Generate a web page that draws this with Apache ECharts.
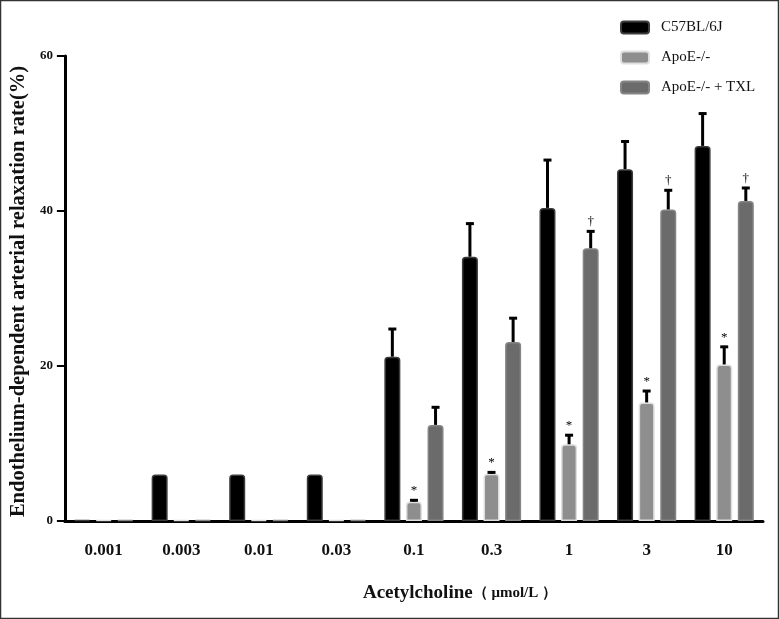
<!DOCTYPE html>
<html>
<head>
<meta charset="utf-8">
<script src="https://cdn.jsdelivr.net/npm/echarts@6/dist/echarts.min.js"></script>
<style>
html,body{margin:0;padding:0;background:#fff;}
#chart{width:779px;height:619px;}
</style>
</head>
<body>
<div id="chart"></div>
<script>
const categories = ['0.001', '0.003', '0.01', '0.03', '0.1', '0.3', '1', '3', '10'];
const seriesNames = ['C57BL/6J', 'ApoE-/-', 'ApoE-/- + TXL'];
const c57 = [0, 6.0, 6.0, 6.0, 21.2, 34.1, 40.4, 45.4, 48.4];
const c57Err = [0, 0, 0, 0, 3.7, 4.4, 6.3, 3.7, 4.3];
const apoe = [0, 0, 0, 0, 2.5, 6.1, 9.9, 15.3, 20.2];
const apoeErr = [0, 0, 0, 0, 0.3, 0.3, 1.3, 1.6, 2.4];
const txl = [0, 0, 0, 0, 12.4, 23.1, 35.2, 40.2, 41.3];
const txlErr = [0, 0, 0, 0, 2.4, 3.2, 2.3, 2.6, 1.8];
const apoeMarks = ['', '', '', '', '*', '*', '*', '*', '*'];
const txlMarks = ['', '', '', '', '', '', '\u2020', '\u2020', '\u2020'];
const yTicks = [0, 20, 40, 60];

const FONT = '"Liberation Serif", "Times New Roman", serif';
const BW = 16, GAP = 0.35;
const fills = ['#000000', '#8e8e8e', '#6b6b6b'];
const borders = ['#3c3c3c', '#dedede', '#858585'];

const chart = echarts.init(document.getElementById('chart'), null, {renderer: 'canvas'});

function barSeries(i, data) {
  return {
    name: seriesNames[i], type: 'bar', data: data, barWidth: BW, barGap: (GAP * 100) + '%',
    barMinHeight: 1,
    itemStyle: {color: fills[i], borderColor: borders[i], borderWidth: 1.5, borderRadius: [3, 3, 0, 0]},
    z: 2
  };
}

function errSeries(i, means, errs, marks) {
  return {
    type: 'custom', name: 'err' + i, z: 5, silent: true,
    data: means.map((m, k) => [k, m, errs[k]]),
    renderItem: function (params, api) {
      const cat = api.value(0), mean = api.value(1), err = api.value(2);
      const off = (i - 1) * BW * (1 + GAP);
      const base = api.coord([cat, mean]);
      const top = api.coord([cat, mean + err]);
      const x = base[0] + off;
      const children = [];
      if (err > 0) {
        children.push({type: 'line', shape: {x1: x, y1: base[1], x2: x, y2: top[1]}, style: {stroke: '#000', lineWidth: 3}});
        children.push({type: 'line', shape: {x1: x - 4, y1: top[1] + 1, x2: x + 4, y2: top[1] + 1}, style: {stroke: '#000', lineWidth: 3}});
      }
      const mk = marks ? marks[params.dataIndex] : '';
      if (mk) {
        children.push({type: 'text', style: {text: mk, x: x, y: top[1] - 2, textAlign: 'center', textVerticalAlign: 'bottom', font: '13px ' + FONT, fill: '#000'}});
      }
      return {type: 'group', children: children};
    }
  };
}

chart.setOption({
  animation: false,
  backgroundColor: '#fff',
  grid: {left: 63, right: 16, top: 56, bottom: 98, containLabel: false},
  legend: {
    data: seriesNames, orient: 'vertical', left: 615, top: 15,
    itemWidth: 28, itemHeight: 12, itemGap: 15, icon: 'roundRect',
    textStyle: {fontFamily: FONT, fontSize: 15, color: '#111', padding: [0, 0, 0, 7]}
  },
  xAxis: {
    type: 'category', data: categories, boundaryGap: true,
    axisLine: {lineStyle: {color: '#000', width: 3}},
    axisTick: {alignWithLabel: true, length: 6, lineStyle: {color: '#000', width: 3}},
    axisLabel: {margin: 21, fontFamily: FONT, fontWeight: 'bold', fontSize: 17, color: '#111'},
    name: '{a|Acetylcholine}{b|（ μmol/L ）}', nameLocation: 'middle', nameGap: 63,
    nameTextStyle: {
      padding: [0, 0, 0, 92],
      rich: {
        a: {fontFamily: FONT, fontWeight: 'bold', fontSize: 19, color: '#111'},
        b: {fontFamily: FONT, fontWeight: 'bold', fontSize: 15, color: '#111'}
      }
    }
  },
  yAxis: {
    type: 'value', min: yTicks[0], max: yTicks[yTicks.length - 1], interval: 20,
    axisLine: {show: true, lineStyle: {color: '#000', width: 3}},
    axisTick: {show: true, length: 8, lineStyle: {color: '#000', width: 2}},
    splitLine: {show: false},
    axisLabel: {margin: 12, fontFamily: FONT, fontWeight: 'bold', fontSize: 13, color: '#111'},
    name: 'Endothelium-dependent arterial relaxation rate(%)', nameLocation: 'middle', nameGap: 30,
    nameTextStyle: {fontFamily: FONT, fontWeight: 'bold', fontSize: 20.5, color: '#111', padding: [0, 6, 0, 0]}
  },
  graphic: [{
    type: 'rect', shape: {x: 0.5, y: 0.5, width: 778, height: 618},
    style: {fill: 'none', stroke: '#333', lineWidth: 1.5}, silent: true, z: 100
  }],
  series: [
    barSeries(0, c57), barSeries(1, apoe), barSeries(2, txl),
    errSeries(0, c57, c57Err, null), errSeries(1, apoe, apoeErr, apoeMarks), errSeries(2, txl, txlErr, txlMarks)
  ]
});
</script>
</body>
</html>
